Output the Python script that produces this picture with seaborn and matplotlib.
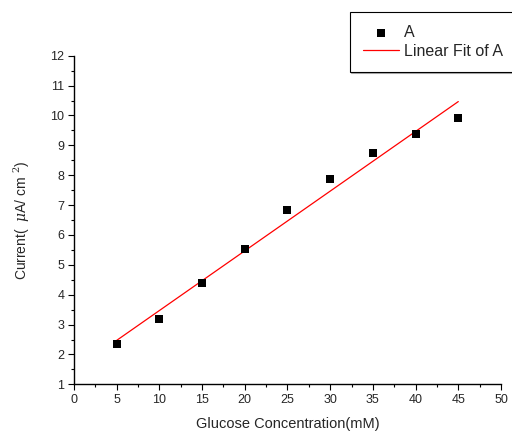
import numpy as np
import pandas as pd
import matplotlib
matplotlib.use("Agg")
import matplotlib.pyplot as plt
import seaborn as sns

# Glucose calibration data
concentration = [5, 10, 15, 20, 25, 30, 35, 40, 45]
current = [2.34, 3.17, 4.40, 5.54, 6.85, 7.87, 8.74, 9.38, 9.92]
x_ticks = [0, 5, 10, 15, 20, 25, 30, 35, 40, 45, 50]
y_ticks = [1, 2, 3, 4, 5, 6, 7, 8, 9, 10, 11, 12]

sns.set_style("ticks")
plt.rcParams["font.family"] = ["Liberation Sans", "DejaVu Sans"]
plt.rcParams["mathtext.fontset"] = "dejavuserif"

df = pd.DataFrame({"conc": concentration, "cur": current})
slope, intercept = np.polyfit(df["conc"], df["cur"], 1)
fit = pd.DataFrame({"conc": [min(concentration), max(concentration)]})
fit["cur"] = slope * fit["conc"] + intercept

fig = plt.figure(figsize=(5.12, 4.32), dpi=100)
ax = fig.add_axes([0.1445, 0.1104, 0.834, 0.7606])

sns.lineplot(data=fit, x="conc", y="cur", ax=ax, color="#ff0000", lw=0.9,
             label="Linear Fit of A", zorder=2)
sns.scatterplot(data=df, x="conc", y="cur", ax=ax, marker="s", s=30,
                color="black", edgecolor="black", linewidth=0, label="A", zorder=3)

ax.set_xlim(0, 50)
ax.set_ylim(1, 12)
ax.set_xticks(x_ticks)
ax.set_yticks(y_ticks)
ax.set_xticks(np.arange(2.5, 50, 5), minor=True)
ax.set_yticks(np.arange(1.5, 12, 1), minor=True)
ax.tick_params(which="major", length=4, width=0.8, labelsize=9, color="black", pad=3)
ax.tick_params(which="minor", length=2.5, width=0.8, color="black")
for side in ("top", "right"):
    ax.spines[side].set_visible(False)
for side in ("left", "bottom"):
    ax.spines[side].set_linewidth(1.0)
    ax.spines[side].set_color("black")

ax.set_xlabel("Glucose Concentration(mM)", fontsize=10.5, labelpad=8)
ax.set_ylabel(r"Current(  $\mu$A/ cm $^{2}$)", fontsize=10, labelpad=13)

handles, labels = ax.get_legend_handles_labels()
ax.get_legend().remove()
order = [labels.index("A"), labels.index("Linear Fit of A")]
leg = fig.legend([handles[i] for i in order], [labels[i] for i in order],
                 loc="upper left", bbox_to_anchor=(350 / 512, 1 - 12 / 432),
                 fontsize=11.5, frameon=True, fancybox=False,
                 shadow={"color": "0.55", "alpha": 0.6, "ox": 1, "oy": -1},
                 edgecolor="black", borderpad=0.8, handlelength=2.25,
                 handletextpad=0.3, labelspacing=0.25, borderaxespad=0)
leg.get_frame().set_linewidth(0.8)

fig.savefig("out.png", dpi=100)
